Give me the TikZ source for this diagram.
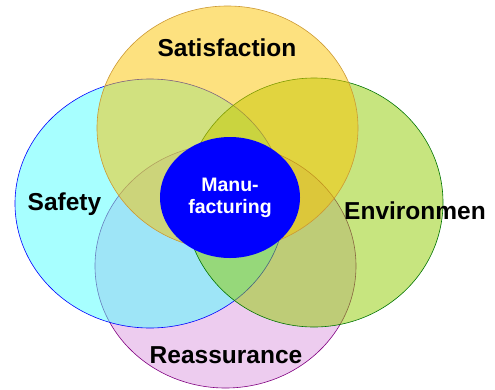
\documentclass[tikz,border=0pt]{standalone}
\usepackage{fontspec}
\setmainfont{Liberation Sans}
\usetikzlibrary{shapes.geometric}

\definecolor{sunny}{HTML}{FBC300}
\definecolor{skyc}{HTML}{50FFFF}
\definecolor{leafc}{HTML}{90CC00}
\definecolor{lilac}{HTML}{DB99E0}

\begin{document}
\begin{tikzpicture}[x=1pt, y=-1pt,
    ring/.style = {line width=0.6pt, fill opacity=0.5, draw opacity=1},
    tag/.style = {font=\bfseries\fontsize{24.5}{28}\selectfont, text=black}]
    \useasboundingbox (0,0) rectangle (495,389);
    % four circles, back to front
    \draw[ring, fill=lilac, draw=violet] (225.5,266) ellipse [x radius=130.5pt, y radius=122pt];
    \draw[ring, fill=skyc, draw=blue] (150,203.5) ellipse [x radius=135pt, y radius=124.5pt];
    \draw[ring, fill=leafc, draw=green!45!black] (314,202.5) ellipse [x radius=129pt, y radius=124.5pt];
    \draw[ring, fill=sunny, draw=brown!80!yellow] (227.5,128) ellipse [x radius=130.5pt, y radius=122pt];
    % centre
    \node[ellipse, fill=blue, minimum width=140pt, minimum height=121pt,
      inner sep=0pt, align=center, text=white,
      font=\bfseries\fontsize{19.5}{22}\selectfont] (core) at (230,197.5) {\raisebox{-2pt}{Manu-}\\\raisebox{-2pt}{facturing}};
    \node[tag] (satis) at (227,48) {Satisfaction};
    \node[tag] (safe) at (64.5,204.5) {Safety};
    \node[tag] (envir) at (415,210.5) {Environmen};
    \node[tag] (reass) at (226,355) {Reassurance};
\end{tikzpicture}
\end{document}
